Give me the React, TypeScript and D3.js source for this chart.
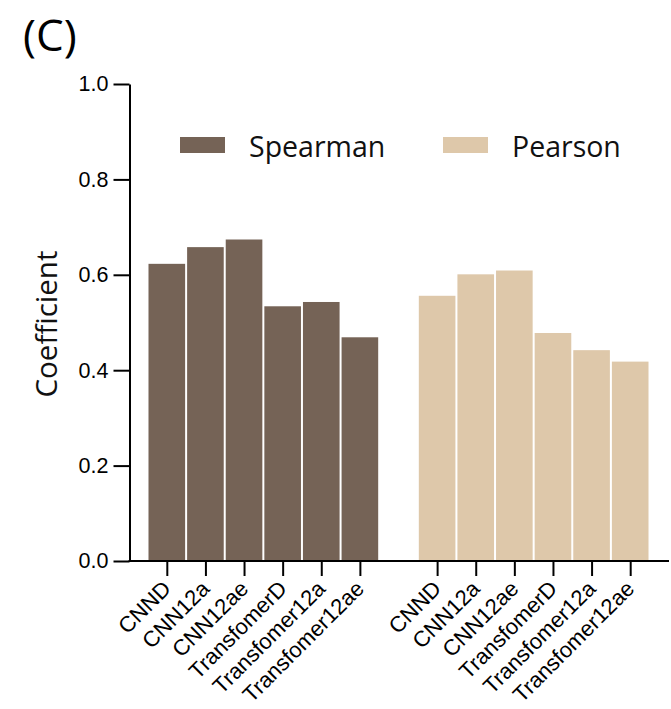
import React, { useEffect, useRef } from "react";
import * as d3 from "d3";

// 데이터
const models = ["CNND", "CNN12a", "CNN12ae", "TransfomerD", "Transfomer12a", "Transfomer12ae"];
const spearman = [0.623, 0.658, 0.674, 0.534, 0.543, 0.469];
const pearson = [0.556, 0.601, 0.609, 0.478, 0.442, 0.418];
const yTicks = [0, 0.2, 0.4, 0.6, 0.8, 1.0];
const seriesNames = ["Spearman", "Pearson"];
const seriesColors = ["#756356", "#dec8aa"];

const App = () => {
  const ref = useRef<SVGSVGElement>(null);

  useEffect(() => {
    const width = 671;
    const height = 709;
    const svg = d3.select(ref.current);
    svg.selectAll("*").remove();

    // 두 그룹 사이에 빈 칸 하나
    const keys = [
      ...models.map((m) => "S-" + m),
      "gap",
      ...models.map((m) => "P-" + m),
    ];
    const bars = [
      ...models.map((m, i) => ({ key: "S-" + m, name: m, value: spearman[i], color: seriesColors[0] })),
      ...models.map((m, i) => ({ key: "P-" + m, name: m, value: pearson[i], color: seriesColors[1] })),
    ];

    const x = d3.scaleBand().domain(keys).range([148, 650]).padding(0);
    const y = d3.scaleLinear().domain([0, 1]).range([561, 84]);

    // 막대
    svg
      .append("g")
      .selectAll("rect")
      .data(bars)
      .enter()
      .append("rect")
      .attr("x", (d) => x(d.key)! + 0.5)
      .attr("y", (d) => y(d.value))
      .attr("width", x.bandwidth() - 2)
      .attr("height", (d) => y(0) - y(d.value))
      .attr("fill", (d) => d.color);

    // y축
    const yAxis = svg
      .append("g")
      .attr("transform", "translate(129.5,0)")
      .call(
        d3
          .axisLeft(y)
          .tickValues(yTicks)
          .tickFormat(d3.format(".1f"))
          .tickSize(16)
          .tickSizeOuter(0)
          .tickPadding(5)
      );
    yAxis.select(".domain").attr("stroke-width", 2);
    yAxis.selectAll(".tick line").attr("stroke-width", 2);
    yAxis
      .selectAll(".tick text")
      .attr("font-family", "Liberation Sans, Arial, sans-serif")
      .attr("font-size", 21.5)
      .attr("fill", "#000");

    // x축
    const xAxis = svg
      .append("g")
      .attr("transform", "translate(0,561)")
      .call(
        d3
          .axisBottom(x)
          .tickValues(bars.map((d) => d.key))
          .tickFormat((k) => (k as string).slice(2))
          .tickSize(15)
          .tickSizeOuter(0)
      );
    xAxis.select(".domain").remove();
    xAxis.selectAll(".tick line").attr("stroke-width", 2);
    xAxis
      .selectAll(".tick text")
      .attr("font-family", "Liberation Sans, Arial, sans-serif")
      .attr("font-size", 22)
      .attr("fill", "#000")
      .attr("text-anchor", "end")
      .attr("dy", 0)
      .attr("transform", "translate(5,29) rotate(-45)")
      .attr("y", 0)
      .attr("x", 0);
    svg
      .append("line")
      .attr("x1", 128.5)
      .attr("x2", 669)
      .attr("y1", 561)
      .attr("y2", 561)
      .attr("stroke", "#000")
      .attr("stroke-width", 2);

    // 범례
    const legendX = [180, 443];
    seriesNames.forEach((name, i) => {
      svg
        .append("rect")
        .attr("x", legendX[i])
        .attr("y", 137)
        .attr("width", 45)
        .attr("height", 16)
        .attr("fill", seriesColors[i]);
      svg
        .append("text")
        .attr("x", legendX[i] + 69)
        .attr("y", 157)
        .attr("font-family", "Open Sans, Noto Sans, sans-serif")
        .attr("font-size", 28.5)
        .attr("fill", "#111")
        .text(name);
    });

    // y축 제목
    svg
      .append("text")
      .attr("transform", "translate(57,324) rotate(-90)")
      .attr("text-anchor", "middle")
      .attr("font-family", "Open Sans, Noto Sans, sans-serif")
      .attr("font-size", 29.5)
      .attr("fill", "#111")
      .text("Coefficient");

    // 패널 라벨
    svg
      .append("text")
      .attr("x", 23)
      .attr("y", 51)
      .attr("font-family", "Open Sans, Noto Sans, sans-serif")
      .attr("font-size", 44)
      .attr("fill", "#000")
      .text("(C)");

    svg.attr("width", width).attr("height", height);
  }, []);

  return (
    <div>
      <svg
        ref={ref}
        width={671}
        height={709}
        style={{ position: "absolute", left: 0, top: 0, background: "#fff" }}
      />
    </div>
  );
};

export default App;
